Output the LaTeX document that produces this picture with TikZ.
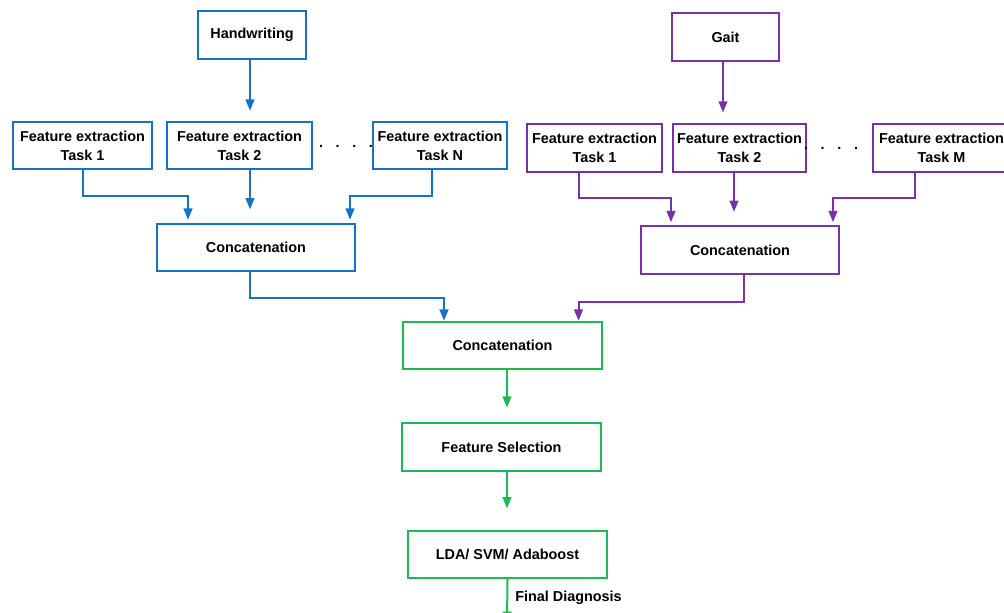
\documentclass[tikz,border=0pt]{standalone}
\usepackage{fontspec}
\setmainfont{Liberation Sans}
\usetikzlibrary{arrows.meta,calc}
\definecolor{cblue}{HTML}{1572C4}
\definecolor{cpurp}{HTML}{7434A6}
\definecolor{cgreen}{HTML}{1DB954}
\begin{document}
\begin{tikzpicture}[x=0.75pt,y=-0.75pt,
  box/.style={draw, line width=1.5pt, fill=white, align=center, inner sep=0pt,
    minimum height=35.6pt, font=\fontsize{10.8}{14.2}\selectfont\bfseries},
  bbox/.style={box, draw=cblue},
  pbox/.style={box, draw=cpurp},
  gbox/.style={box, draw=cgreen},
  arr/.style={line width=1.5pt, -{Triangle[length=8.5pt,width=6.5pt]}},
  lbl/.style={font=\fontsize{10.8}{13}\selectfont\bfseries, inner sep=0pt}
]
\useasboundingbox (0,0) rectangle (1004,613);
% blue branch
\node[bbox, minimum width=81pt] (hw) at (252,35) {Handwriting};
\node[bbox, minimum width=104.25pt] (bt1) at (82.5,145.5) {Feature extraction\\Task 1};
\node[bbox, minimum width=108.75pt] (bt2) at (239.5,145.5) {Feature extraction\\Task 2};
\node[bbox, minimum width=100.5pt] (btN) at (440,145.5) {Feature extraction\\Task N};
\node[lbl] (bdots) at (346,146) {.\hspace{9.5pt}.\hspace{9.5pt}.\hspace{9.5pt}.};
\node[bbox, minimum width=148.5pt] (bc) at (256,247.5) {Concatenation};
% purple branch
\node[pbox, minimum width=80.25pt] (gait) at (725.5,37) {Gait};
\node[pbox, minimum width=101.25pt] (pt1) at (594.5,148) {Feature extraction\\Task 1};
\node[pbox, minimum width=99.75pt] (pt2) at (739.5,148) {Feature extraction\\Task 2};
\node[pbox, minimum width=102.75pt] (ptM) at (941.5,148) {Feature extraction\\Task M};
\node[lbl] (pdots) at (831,148) {.\hspace{9.5pt}.\hspace{9.5pt}.\hspace{9.5pt}.};
\node[pbox, minimum width=148.5pt] (pc) at (740,250) {Concatenation};
% green
\node[gbox, minimum width=149.25pt] (gc) at (502.5,345.5) {Concatenation};
\node[gbox, minimum width=149.25pt] (fs) at (501.5,447) {Feature Selection};
\node[gbox, minimum width=149.25pt] (lda) at (507.5,554.5) {LDA/ SVM/ Adaboost};
\node[lbl, anchor=west] (fd) at (515,598) {Final Diagnosis};
\coordinate (out) at (507,623);
% start points of straight connectors
\coordinate (s1) at ($(hw.south)+(-2,0)$);
\coordinate (s2) at ($(bt2.south)+(10.5,0)$);
\coordinate (s3) at ($(gait.south)+(-2.5,0)$);
\coordinate (s4) at ($(pt2.south)+(-5.5,0)$);
\coordinate (s5) at ($(gc.south)+(4.5,0)$);
\coordinate (s6) at ($(fs.south)+(5.5,0)$);
% blue connectors
\draw[arr, cblue, shorten >=7.5pt] (s1) -- (s1 |- bt2.north);
\draw[arr, cblue] (bt1.south) -- ++(0,26) -| ($(bc.north west)+(32,-3)$);
\draw[arr, cblue, shorten >=10pt] (s2) -- (s2 |- bc.north);
\draw[arr, cblue] ($(btN.south)+(-8,0)$) -- ++(0,26) -| ($(bc.north east)+(-6,-3)$);
\draw[arr, cblue] ($(bc.south)+(-6,0)$) -- ++(0,26) -| ($(gc.north west)+(42,0)$);
% purple connectors
\draw[arr, cpurp, shorten >=8pt] (s3) -- (s3 |- pt2.north);
\draw[arr, cpurp] ($(pt1.south)+(-15.5,0)$) -- ++(0,25) -| ($(pc.north west)+(31,-3)$);
\draw[arr, cpurp, shorten >=10pt] (s4) -- (s4 |- pc.north);
\draw[arr, cpurp] ($(ptM.south)+(-26.5,0)$) -- ++(0,25) -| ($(pc.north east)+(-7,-3)$);
\draw[arr, cpurp] ($(pc.south)+(4,0)$) -- ++(0,27) -| ($(gc.north west)+(176.5,0)$);
% green connectors
\draw[arr, cgreen, shorten >=11pt] (s5) -- (s5 |- fs.north);
\draw[arr, cgreen, shorten >=16pt] (s6) -- (s6 |- lda.north);
\draw[arr, cgreen] (lda.south) -- (out);
\end{tikzpicture}
\end{document}
